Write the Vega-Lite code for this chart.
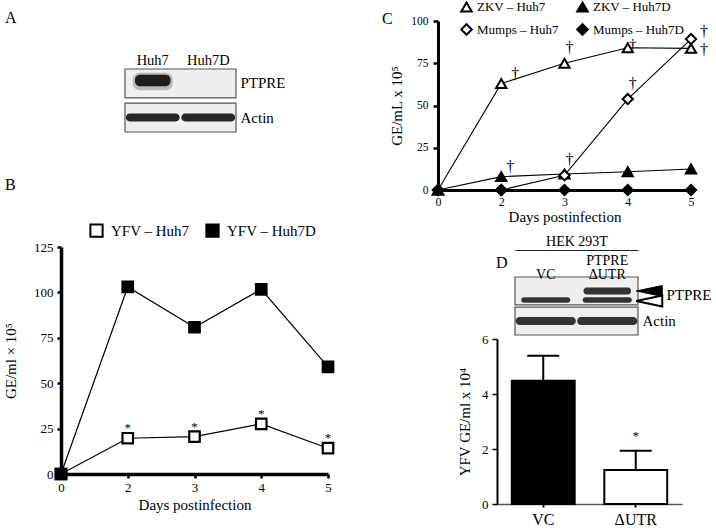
{
  "$schema": "https://vega.github.io/schema/vega-lite/v6.json",
  "background": "white",
  "padding": {"left": 3, "top": 0, "right": 0, "bottom": 0},
  "config": {
    "view": {"stroke": null},
    "font": "Liberation Serif",
    "axis": {"labelFont": "Liberation Serif", "titleFont": "Liberation Serif", "labelColor": "black", "titleColor": "black", "titleFontWeight": "normal", "grid": false, "domainColor": "black", "tickColor": "black"},
    "legend": {"labelFont": "Liberation Serif", "labelColor": "black"},
    "title": {"font": "Liberation Serif", "fontWeight": "normal", "color": "black"},
    "text": {"font": "Liberation Serif", "color": "black"}
  },
  "resolve": {"scale": {"x": "independent", "y": "independent", "fill": "independent", "shape": "independent", "stroke": "independent"}, "legend": {"fill": "independent", "shape": "independent", "stroke": "independent"}},
  "bounds": "flush",
  "spacing": 0,
  "hconcat": [
    {
      "bounds": "flush",
      "spacing": 0,
      "resolve": {"scale": {"x": "independent", "y": "independent", "fill": "independent", "shape": "independent"}, "legend": {"fill": "independent", "shape": "independent"}},
      "vconcat": [
        {
          "bounds": "flush",
          "spacing": 0,
          "hconcat": [
            {"width": 64, "height": 1, "data": {"values": []}, "mark": "point", "encoding": {}},
            {
              "bounds": "flush",
              "spacing": 0,
              "vconcat": [
                {"width": 1, "height": 48, "data": {"values": []}, "mark": "point", "encoding": {}},
                {
                  "width": 111,
                  "height": 63,
                  "title": {"text": "A", "anchor": "start", "frame": "group", "fontSize": 16, "dx": -120, "offset": 26.5},
                  "layer": [
                    {
                      "data": {"values": [{"protein": "PTPRE"}, {"protein": "Actin"}]},
                      "mark": {"type": "rect", "fill": "#efefef", "stroke": "#555555", "strokeWidth": 1.2},
                      "encoding": {
                        "y": {"field": "protein", "type": "nominal", "scale": {"domain": ["PTPRE", "Actin"], "paddingInner": 0.15, "paddingOuter": 0}, "axis": {"orient": "right", "title": null, "domain": false, "ticks": false, "labelFontSize": 15, "labelPadding": 4}}
                      }
                    },
                    {
                      "data": {"values": [
                        {"lane": "Huh7", "protein": "PTPRE", "signal": 1},
                        {"lane": "Huh7D", "protein": "PTPRE", "signal": 0},
                        {"lane": "Huh7", "protein": "Actin", "signal": 1},
                        {"lane": "Huh7D", "protein": "Actin", "signal": 1}
                      ]},
                      "transform": [{"filter": "datum.protein == 'PTPRE' && datum.signal > 0"}],
                      "mark": {"type": "rect", "fill": "#555555", "opacity": 0.35, "cornerRadius": 7, "width": {"band": 0.72}, "height": {"band": 0.6}, "yOffset": -2},
                      "encoding": {
                        "x": {"field": "lane", "type": "nominal", "scale": {"domain": ["Huh7", "Huh7D"], "paddingInner": 0, "paddingOuter": 0}, "axis": {"orient": "top", "title": null, "domain": false, "ticks": false, "labelFontSize": 14.5, "labelPadding": 2, "labelAngle": 0}},
                        "y": {"field": "protein", "type": "nominal"}
                      }
                    },
                    {
                      "data": {"values": [
                        {"lane": "Huh7", "protein": "PTPRE", "signal": 1},
                        {"lane": "Huh7D", "protein": "PTPRE", "signal": 0},
                        {"lane": "Huh7", "protein": "Actin", "signal": 1},
                        {"lane": "Huh7D", "protein": "Actin", "signal": 1}
                      ]},
                      "transform": [{"filter": "datum.protein == 'PTPRE' && datum.signal > 0"}],
                      "mark": {"type": "rect", "fill": "#1e1e1e", "cornerRadius": 5, "width": {"band": 0.64}, "height": {"band": 0.4}, "yOffset": -3},
                      "encoding": {
                        "x": {"field": "lane", "type": "nominal"},
                        "y": {"field": "protein", "type": "nominal"}
                      }
                    },
                    {
                      "data": {"values": [
                        {"lane": "Huh7", "protein": "PTPRE", "signal": 1},
                        {"lane": "Huh7D", "protein": "PTPRE", "signal": 0},
                        {"lane": "Huh7", "protein": "Actin", "signal": 1},
                        {"lane": "Huh7D", "protein": "Actin", "signal": 1}
                      ]},
                      "transform": [{"filter": "datum.protein == 'Actin'"}],
                      "mark": {"type": "rect", "fill": "#262626", "cornerRadius": 4, "width": {"band": 0.97}, "height": {"band": 0.27}},
                      "encoding": {
                        "x": {"field": "lane", "type": "nominal"},
                        "y": {"field": "protein", "type": "nominal"}
                      }
                    }
                  ]
                }
              ]
            }
          ]
        },
        {"width": 1, "height": 226, "data": {"values": []}, "mark": "point", "encoding": {}},
        {
          "width": 267,
          "height": 227,
          "title": {"text": "B", "anchor": "start", "frame": "group", "fontSize": 16, "dx": -56, "offset": 30.5},
          "data": {"values": [
            {"day": "0", "series": "YFV – Huh7", "value": 0, "sig": ""},
            {"day": "2", "series": "YFV – Huh7", "value": 19.7, "sig": "*"},
            {"day": "3", "series": "YFV – Huh7", "value": 20.6, "sig": "*"},
            {"day": "4", "series": "YFV – Huh7", "value": 27.6, "sig": "*"},
            {"day": "5", "series": "YFV – Huh7", "value": 14.2, "sig": "*"},
            {"day": "0", "series": "YFV – Huh7D", "value": 0, "sig": ""},
            {"day": "2", "series": "YFV – Huh7D", "value": 103, "sig": ""},
            {"day": "3", "series": "YFV – Huh7D", "value": 80.8, "sig": ""},
            {"day": "4", "series": "YFV – Huh7D", "value": 101.7, "sig": ""},
            {"day": "5", "series": "YFV – Huh7D", "value": 59, "sig": ""}
          ]},
          "encoding": {
            "x": {"field": "day", "type": "ordinal", "scale": {"type": "point", "padding": 0}, "axis": {"labelAngle": 0, "title": "Days postinfection", "titleFontSize": 15, "labelFontSize": 13, "domainWidth": 3.5, "tickWidth": 2.5, "tickSize": 4, "labelPadding": 3, "titlePadding": 3}},
            "y": {"field": "value", "type": "quantitative", "scale": {"domain": [0, 125], "nice": false}, "axis": {"values": [0, 25, 50, 75, 100, 125], "title": "GE/ml × 10⁵", "titleFontSize": 15, "labelFontSize": 13, "domainWidth": 3.5, "tickWidth": 2.5, "tickSize": 4, "labelPadding": 4, "titlePadding": 15}}
          },
          "layer": [
            {"mark": {"type": "line", "color": "black", "strokeWidth": 1.2}, "encoding": {"detail": {"field": "series"}}},
            {
              "mark": {"type": "point", "shape": "square", "size": 110, "filled": true, "stroke": "black", "strokeWidth": 2.2, "opacity": 1},
              "encoding": {
                "fill": {"field": "series", "type": "nominal", "scale": {"domain": ["YFV – Huh7", "YFV – Huh7D"], "range": ["white", "black"]},
                  "legend": {"orient": "none", "legendX": 28, "legendY": -24, "direction": "horizontal", "title": null, "labelFontSize": 15, "symbolSize": 150, "symbolType": "square", "symbolStrokeColor": "black", "symbolStrokeWidth": 2, "columnPadding": 12, "labelOffset": 7, "padding": 0}}
              }
            },
            {"transform": [{"filter": "datum.sig != ''"}], "mark": {"type": "text", "dy": -10, "fontSize": 13, "color": "black"}, "encoding": {"text": {"field": "sig"}}}
          ]
        }
      ]
    },
    {"width": 377, "height": 1, "data": {"values": []}, "mark": "point", "encoding": {}},
    {
      "bounds": "flush",
      "spacing": 0,
      "resolve": {"scale": {"x": "independent", "y": "independent", "fill": "independent", "shape": "independent", "stroke": "independent"}, "legend": {"fill": "independent", "shape": "independent", "stroke": "independent"}},
      "vconcat": [
        {
          "width": 253,
          "height": 169,
          "title": {"text": "C", "anchor": "start", "frame": "group", "fontSize": 16, "dx": -56, "offset": -26.5},
          "data": {"values": [
            {"day": "0", "series": "ZKV – Huh7", "value": 0, "sig": ""},
            {"day": "2", "series": "ZKV – Huh7", "value": 63, "sig": "†"},
            {"day": "3", "series": "ZKV – Huh7", "value": 75, "sig": "†"},
            {"day": "4", "series": "ZKV – Huh7", "value": 84.2, "sig": "†"},
            {"day": "5", "series": "ZKV – Huh7", "value": 83.8, "sig": "†"},
            {"day": "0", "series": "ZKV – Huh7D", "value": 0, "sig": ""},
            {"day": "2", "series": "ZKV – Huh7D", "value": 7.9, "sig": "†"},
            {"day": "3", "series": "ZKV – Huh7D", "value": 9.5, "sig": ""},
            {"day": "4", "series": "ZKV – Huh7D", "value": 10.8, "sig": ""},
            {"day": "5", "series": "ZKV – Huh7D", "value": 12.4, "sig": ""},
            {"day": "0", "series": "Mumps – Huh7", "value": 0, "sig": ""},
            {"day": "2", "series": "Mumps – Huh7", "value": 0, "sig": ""},
            {"day": "3", "series": "Mumps – Huh7", "value": 8.7, "sig": "†"},
            {"day": "4", "series": "Mumps – Huh7", "value": 53.8, "sig": "†"},
            {"day": "5", "series": "Mumps – Huh7", "value": 89.3, "sig": "†"},
            {"day": "0", "series": "Mumps – Huh7D", "value": 0, "sig": ""},
            {"day": "2", "series": "Mumps – Huh7D", "value": 0, "sig": ""},
            {"day": "3", "series": "Mumps – Huh7D", "value": 0, "sig": ""},
            {"day": "4", "series": "Mumps – Huh7D", "value": 0, "sig": ""},
            {"day": "5", "series": "Mumps – Huh7D", "value": 0, "sig": ""}
          ]},
          "encoding": {
            "x": {"field": "day", "type": "ordinal", "scale": {"type": "point", "padding": 0}, "axis": {"labelAngle": 0, "title": "Days postinfection", "titleFontSize": 15, "labelFontSize": 12, "domainWidth": 3, "tickWidth": 2, "tickSize": 3, "labelPadding": 3, "titlePadding": 2}},
            "y": {"field": "value", "type": "quantitative", "scale": {"domain": [0, 100], "nice": false}, "axis": {"values": [0, 25, 50, 75, 100], "title": "GE/mL x 10⁵", "titleFontSize": 15, "labelFontSize": 11.5, "domainWidth": 3, "tickWidth": 2.5, "tickSize": 5, "labelPadding": 5, "titlePadding": 6}}
          },
          "layer": [
            {"mark": {"type": "line", "color": "black", "strokeWidth": 1.1}, "encoding": {"detail": {"field": "series"}}},
            {
              "mark": {"type": "point", "size": 105, "filled": true, "strokeWidth": 2, "opacity": 1},
              "encoding": {
                "shape": {"field": "series", "type": "nominal", "scale": {"domain": ["ZKV – Huh7", "ZKV – Huh7D", "Mumps – Huh7", "Mumps – Huh7D"], "range": ["triangle-up", "triangle-up", "diamond", "diamond"]},
                  "legend": {"orient": "none", "legendX": 22, "legendY": -21, "columns": 2, "direction": "horizontal", "title": null, "labelFontSize": 13, "symbolSize": 110, "symbolStrokeColor": "black", "symbolStrokeWidth": 2, "columnPadding": 14, "rowPadding": 4, "labelOffset": 4, "padding": 0}},
                "fill": {"field": "series", "type": "nominal", "scale": {"domain": ["ZKV – Huh7", "ZKV – Huh7D", "Mumps – Huh7", "Mumps – Huh7D"], "range": ["white", "black", "white", "black"]},
                  "legend": {"orient": "none", "legendX": 22, "legendY": -21, "columns": 2, "direction": "horizontal", "title": null, "labelFontSize": 13, "symbolSize": 110, "symbolStrokeColor": "black", "symbolStrokeWidth": 2, "columnPadding": 14, "rowPadding": 4, "labelOffset": 4, "padding": 0}},
                "stroke": {"field": "series", "type": "nominal", "scale": {"domain": ["ZKV – Huh7", "ZKV – Huh7D", "Mumps – Huh7", "Mumps – Huh7D"], "range": ["black", "black", "black", "black"]},
                  "legend": {"orient": "none", "legendX": 22, "legendY": -21, "columns": 2, "direction": "horizontal", "title": null, "labelFontSize": 13, "symbolSize": 110, "symbolStrokeColor": "black", "symbolStrokeWidth": 2, "columnPadding": 14, "rowPadding": 4, "labelOffset": 4, "padding": 0}}
              }
            },
            {"transform": [{"filter": "datum.series == 'ZKV – Huh7' && datum.day == '2'"}], "mark": {"type": "text", "dx": 14, "dy": -10, "fontSize": 16, "color": "black"}, "encoding": {"text": {"field": "sig"}}},
            {"transform": [{"filter": "datum.series == 'ZKV – Huh7D' && datum.day == '2'"}], "mark": {"type": "text", "dx": 9, "dy": -10, "fontSize": 16, "color": "black"}, "encoding": {"text": {"field": "sig"}}},
            {"transform": [{"filter": "datum.sig != '' && ((datum.series == 'ZKV – Huh7' && datum.day == '3') || (datum.series == 'Mumps – Huh7' && (datum.day == '3' || datum.day == '4')))"}], "mark": {"type": "text", "dx": 5, "dy": -15, "fontSize": 16, "color": "black"}, "encoding": {"text": {"field": "sig"}}},
            {"transform": [{"filter": "datum.series == 'ZKV – Huh7' && datum.day == '4'"}], "mark": {"type": "text", "dx": 5, "dy": -4, "fontSize": 15, "color": "black"}, "encoding": {"text": {"field": "sig"}}},
            {"transform": [{"filter": "datum.series == 'Mumps – Huh7' && datum.day == '5'"}], "mark": {"type": "text", "dx": 13, "dy": -7, "fontSize": 16, "color": "black"}, "encoding": {"text": {"field": "sig"}}},
            {"transform": [{"filter": "datum.series == 'ZKV – Huh7' && datum.day == '5'"}], "mark": {"type": "text", "dx": 13, "dy": 2, "fontSize": 16, "color": "black"}, "encoding": {"text": {"field": "sig"}}}
          ]
        },
        {"width": 1, "height": 87, "data": {"values": []}, "mark": "point", "encoding": {}},
        {
          "bounds": "flush",
          "spacing": 0,
          "hconcat": [
            {"width": 77, "height": 1, "data": {"values": []}, "mark": "point", "encoding": {}},
            {
              "width": 123,
              "height": 58,
              "title": {"text": "D", "anchor": "start", "frame": "group", "fontSize": 16, "dx": -19, "offset": -36.5},
              "layer": [
                {
                  "data": {"values": [{"protein": "PTPRE"}, {"protein": "Actin"}]},
                  "mark": {"type": "rect", "fill": "#eeeeee", "stroke": "#555555", "strokeWidth": 1.2},
                  "encoding": {
                    "y": {"field": "protein", "type": "nominal", "scale": {"domain": ["PTPRE", "Actin"], "paddingInner": 0.07, "paddingOuter": 0},
                      "axis": {"orient": "right", "title": null, "domain": false, "ticks": false, "labelFontSize": 15, "labelPadding": {"condition": {"test": "datum.value === 'PTPRE'", "value": 28}, "value": 4}, "labelOffset": {"condition": {"test": "datum.value === 'PTPRE'", "value": 4}, "value": 0}}}
                  }
                },
                {
                  "data": {"values": [
                    {"lane": "VC", "protein": "PTPRE", "form": "endogenous"},
                    {"lane": "PTPRE ΔUTR", "protein": "PTPRE", "form": "endogenous"},
                    {"lane": "PTPRE ΔUTR", "protein": "PTPRE", "form": "ΔUTR"},
                    {"lane": "VC", "protein": "Actin", "form": "Actin"},
                    {"lane": "PTPRE ΔUTR", "protein": "Actin", "form": "Actin"}
                  ]},
                  "transform": [{"filter": "datum.form == 'endogenous'"}],
                  "mark": {"type": "rect", "fill": "#333333", "cornerRadius": 3, "width": {"band": 0.8}, "height": {"band": 0.2}, "yOffset": 9},
                  "encoding": {
                    "x": {"field": "lane", "type": "nominal", "scale": {"domain": ["VC", "PTPRE ΔUTR"], "paddingInner": 0, "paddingOuter": 0},
                      "axis": {"orient": "top", "offset": 27, "domain": true, "domainColor": "#222222", "domainWidth": 1, "ticks": false, "tickSize": 0, "labelBaseline": "top", "labelPadding": -3, "labelFontSize": 14, "labelLineHeight": 14, "labelAngle": 0, "labelExpr": "datum.value == 'VC' ? ['', 'VC'] : ['PTPRE', 'ΔUTR']", "title": "HEK 293T", "titleFontSize": 14, "titlePadding": 2}},
                    "y": {"field": "protein", "type": "nominal"}
                  }
                },
                {
                  "data": {"values": [
                    {"lane": "VC", "protein": "PTPRE", "form": "endogenous"},
                    {"lane": "PTPRE ΔUTR", "protein": "PTPRE", "form": "endogenous"},
                    {"lane": "PTPRE ΔUTR", "protein": "PTPRE", "form": "ΔUTR"},
                    {"lane": "VC", "protein": "Actin", "form": "Actin"},
                    {"lane": "PTPRE ΔUTR", "protein": "Actin", "form": "Actin"}
                  ]},
                  "transform": [{"filter": "datum.form == 'ΔUTR'"}],
                  "mark": {"type": "rect", "fill": "#333333", "cornerRadius": 3, "width": {"band": 0.77}, "height": {"band": 0.25}, "yOffset": 0},
                  "encoding": {
                    "x": {"field": "lane", "type": "nominal"},
                    "y": {"field": "protein", "type": "nominal"}
                  }
                },
                {
                  "data": {"values": [
                    {"lane": "VC", "protein": "PTPRE", "form": "endogenous"},
                    {"lane": "PTPRE ΔUTR", "protein": "PTPRE", "form": "endogenous"},
                    {"lane": "PTPRE ΔUTR", "protein": "PTPRE", "form": "ΔUTR"},
                    {"lane": "VC", "protein": "Actin", "form": "Actin"},
                    {"lane": "PTPRE ΔUTR", "protein": "Actin", "form": "Actin"}
                  ]},
                  "transform": [{"filter": "datum.form == 'Actin'"}],
                  "mark": {"type": "rect", "fill": "#333333", "cornerRadius": 4, "width": {"band": 0.98}, "height": {"band": 0.29}},
                  "encoding": {
                    "x": {"field": "lane", "type": "nominal"},
                    "y": {"field": "protein", "type": "nominal"}
                  }
                },
                {
                  "data": {"values": [{"lane": "PTPRE ΔUTR", "protein": "PTPRE", "form": "ΔUTR"}]},
                  "mark": {"type": "point", "shape": "M-1,0L1,-0.42L1,0.42Z", "size": 676, "filled": true, "fill": "black", "stroke": "black", "strokeWidth": 1, "opacity": 1, "xOffset": 42, "yOffset": 0},
                  "encoding": {"x": {"field": "lane", "type": "nominal"}, "y": {"field": "protein", "type": "nominal"}}
                },
                {
                  "data": {"values": [{"lane": "PTPRE ΔUTR", "protein": "PTPRE", "form": "endogenous"}]},
                  "mark": {"type": "point", "shape": "M-1,0L1,-0.42L1,0.42Z", "size": 676, "filled": true, "fill": "white", "stroke": "black", "strokeWidth": 2, "opacity": 1, "xOffset": 42, "yOffset": 10},
                  "encoding": {"x": {"field": "lane", "type": "nominal"}, "y": {"field": "protein", "type": "nominal"}}
                }
              ]
            }
          ]
        },
        {"width": 1, "height": 62, "data": {"values": []}, "mark": "point", "encoding": {}},
        {
          "bounds": "flush",
          "spacing": 0,
          "resolve": {"scale": {"x": "independent", "y": "independent", "fill": "independent"}},
          "hconcat": [
            {"width": 59, "height": 1, "data": {"values": []}, "mark": "point", "encoding": {}},
            {
              "width": 185,
              "height": 165,
              "data": {"values": [
                {"group": "VC", "mean": 4.48, "upper": 5.39, "sig": ""},
                {"group": "ΔUTR", "mean": 1.24, "upper": 1.94, "sig": "*"}
              ]},
              "encoding": {
                "x": {"field": "group", "type": "nominal", "scale": {"domain": ["VC", "ΔUTR"], "paddingInner": 0.32, "paddingOuter": 0.16},
                  "axis": {"title": null, "labelAngle": 0, "labelFontSize": 16, "labelPadding": 4, "domainColor": "#555555", "domainWidth": 1.5, "tickWidth": 2, "tickSize": 3}}
              },
              "layer": [
                {"mark": {"type": "rule", "color": "black", "strokeWidth": 2}, "encoding": {"y": {"field": "upper", "type": "quantitative"}, "y2": {"field": "mean"}}},
                {"mark": {"type": "tick", "color": "black", "size": 32, "thickness": 2, "opacity": 1}, "encoding": {"y": {"field": "upper", "type": "quantitative"}}},
                {
                  "mark": {"type": "bar", "stroke": "black", "strokeWidth": 2},
                  "encoding": {
                    "y": {"field": "mean", "type": "quantitative", "scale": {"domain": [0, 6], "nice": false},
                      "axis": {"values": [0, 2, 4, 6], "title": "YFV GE/ml x 10⁴", "titleFontSize": 15, "labelFontSize": 13, "domainWidth": 2, "tickWidth": 1.5, "tickSize": 5, "labelPadding": 4, "titlePadding": 9}},
                    "fill": {"field": "group", "type": "nominal", "scale": {"domain": ["VC", "ΔUTR"], "range": ["black", "white"]}, "legend": null}
                  }
                },
                {"transform": [{"filter": "datum.sig != ''"}], "mark": {"type": "text", "dy": -15, "fontSize": 13, "color": "black"}, "encoding": {"y": {"field": "upper", "type": "quantitative"}, "text": {"field": "sig"}}}
              ]
            }
          ]
        }
      ]
    }
  ]
}
